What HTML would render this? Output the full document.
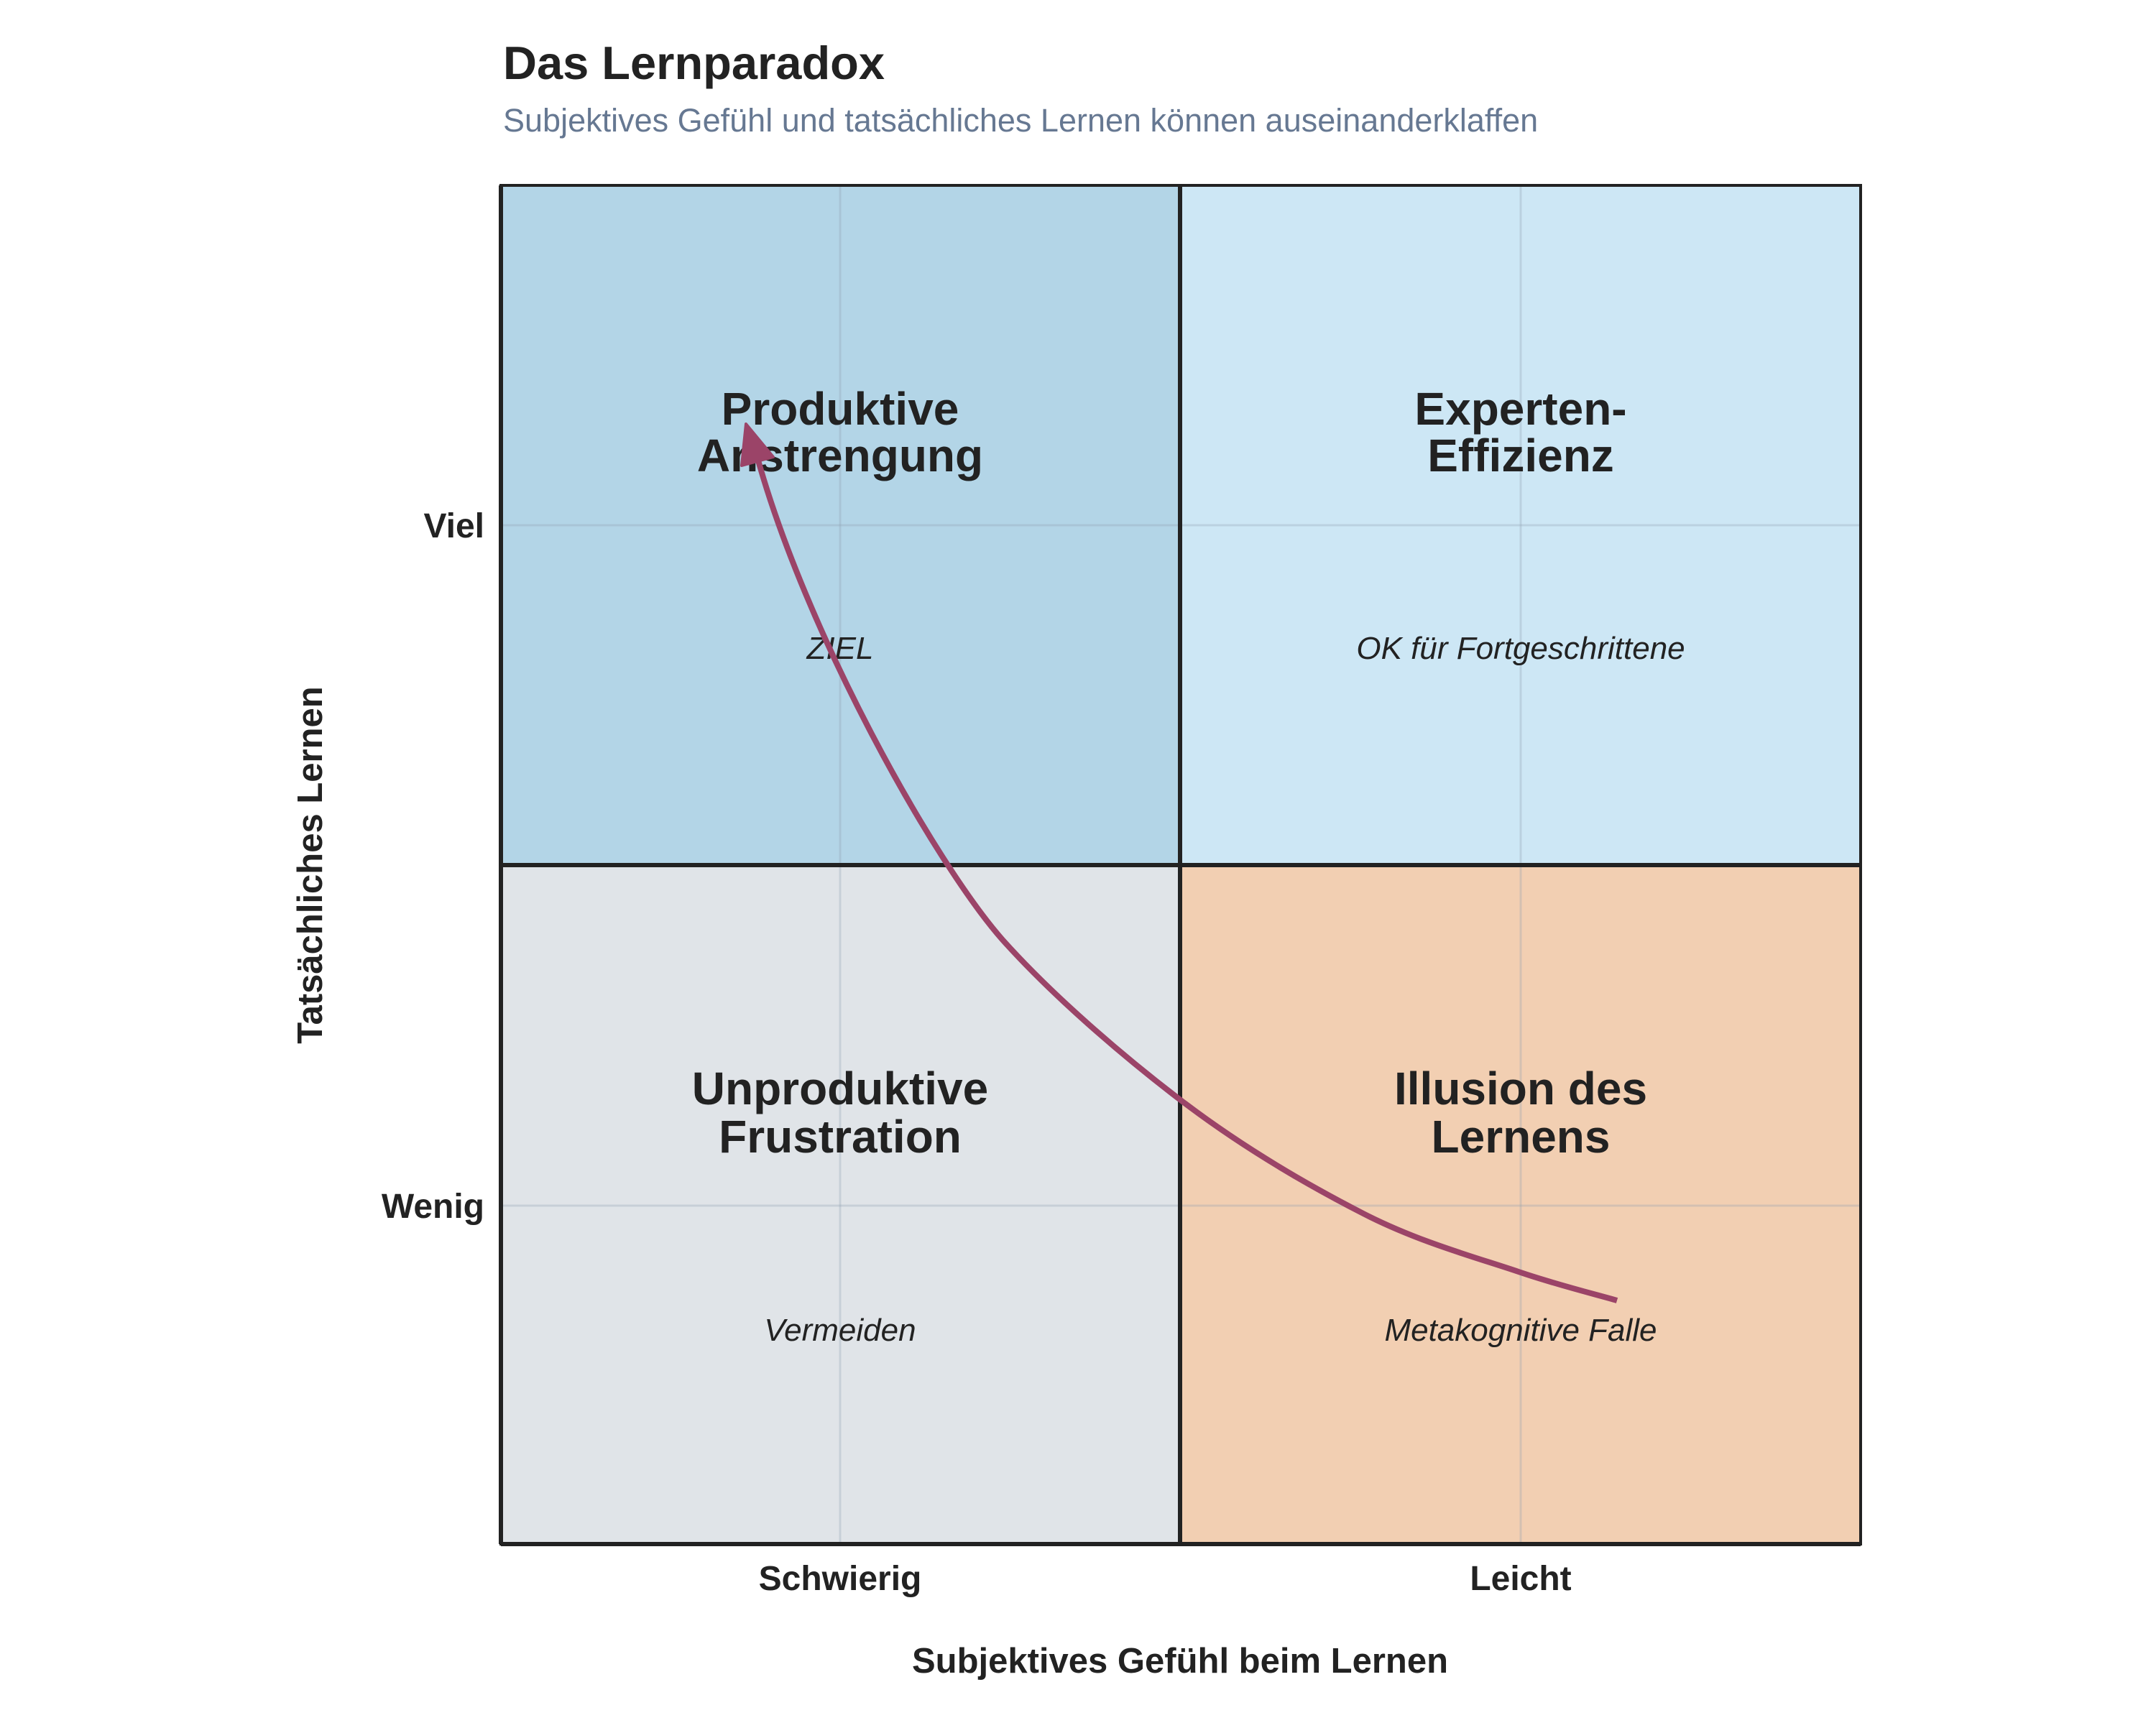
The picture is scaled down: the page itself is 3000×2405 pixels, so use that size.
<!DOCTYPE html>
<html><head><meta charset="utf-8"><style>
html,body{margin:0;padding:0;background:#fff}
svg text{font-family:"Liberation Sans",sans-serif}
</style></head><body>
<svg width="3000" height="2400" viewBox="0 0 3000 2400" xmlns="http://www.w3.org/2000/svg">
<rect width="3000" height="2400" fill="#fff"/>
<text x="700" y="110" font-size="65" font-weight="bold" fill="#222">Das Lernparadox</text>
<text x="700" y="183" font-size="45" fill="#667892">Subjektives Gefühl und tatsächliches Lernen können auseinanderklaffen</text>
<rect x="697" y="258" width="945" height="946" fill="#b3d5e7"/>
<rect x="1642" y="258" width="947" height="946" fill="#cde7f5"/>
<rect x="697" y="1204" width="945" height="945" fill="#e0e4e8"/>
<rect x="1642" y="1204" width="947" height="945" fill="#f2cfb2"/>
<g stroke="#90a0b0" stroke-opacity="0.3" stroke-width="3">
<line x1="1169" y1="258" x2="1169" y2="2149"/><line x1="2116" y1="258" x2="2116" y2="2149"/>
<line x1="697" y1="731" x2="2589" y2="731"/><line x1="697" y1="1678" x2="2589" y2="1678"/>
</g>
<g stroke="#222" stroke-width="6" fill="none">
<rect x="697" y="258" width="1892" height="1891" stroke-width="4"/>
<line x1="1642" y1="258" x2="1642" y2="2149"/>
<line x1="697" y1="1204" x2="2589" y2="1204"/>
<line x1="697" y1="258" x2="697" y2="2149"/>
<line x1="697" y1="2149" x2="2589" y2="2149"/>
</g>
<g font-weight="bold" font-size="64" fill="#222" text-anchor="middle">
<text x="1169" y="591">Produktive</text><text x="1169" y="656">Anstrengung</text>
<text x="2116" y="591">Experten-</text><text x="2116" y="656">Effizienz</text>
<text x="1169" y="1537">Unproduktive</text><text x="1169" y="1604">Frustration</text>
<text x="2116" y="1537">Illusion des</text><text x="2116" y="1604">Lernens</text>
</g>
<g font-style="italic" font-size="44" fill="#222" text-anchor="middle">
<text x="1169" y="917">ZIEL</text>
<text x="2116" y="917">OK für Fortgeschrittene</text>
<text x="1169" y="1866">Vermeiden</text>
<text x="2116" y="1866">Metakognitive Falle</text>
</g>
<path d="M2250,1810 C2227,1803 2172,1790 2113,1770 C2054,1750 1975,1729 1897,1689 C1819,1649 1728,1596 1644,1532 C1560,1468 1464,1385 1395,1308 C1300,1200 1120,880 1052,630" stroke="#9b4468" stroke-width="8" fill="none" stroke-linejoin="round"/>
<polygon points="1038,590 1076,636 1032,648" fill="#9b4468" stroke="#9b4468" stroke-width="4" stroke-linejoin="round"/>
<g font-weight="bold" font-size="48" fill="#222">
<text x="674" y="748" text-anchor="end">Viel</text>
<text x="674" y="1695" text-anchor="end">Wenig</text>
<text x="1169" y="2213" text-anchor="middle">Schwierig</text>
<text x="2116" y="2213" text-anchor="middle">Leicht</text>
<text x="1642" y="2328" text-anchor="middle" font-size="49">Subjektives Gefühl beim Lernen</text>
<text transform="translate(448,1204) rotate(-90)" text-anchor="middle" font-size="49">Tatsächliches Lernen</text>
</g>
</svg>
</body></html>
